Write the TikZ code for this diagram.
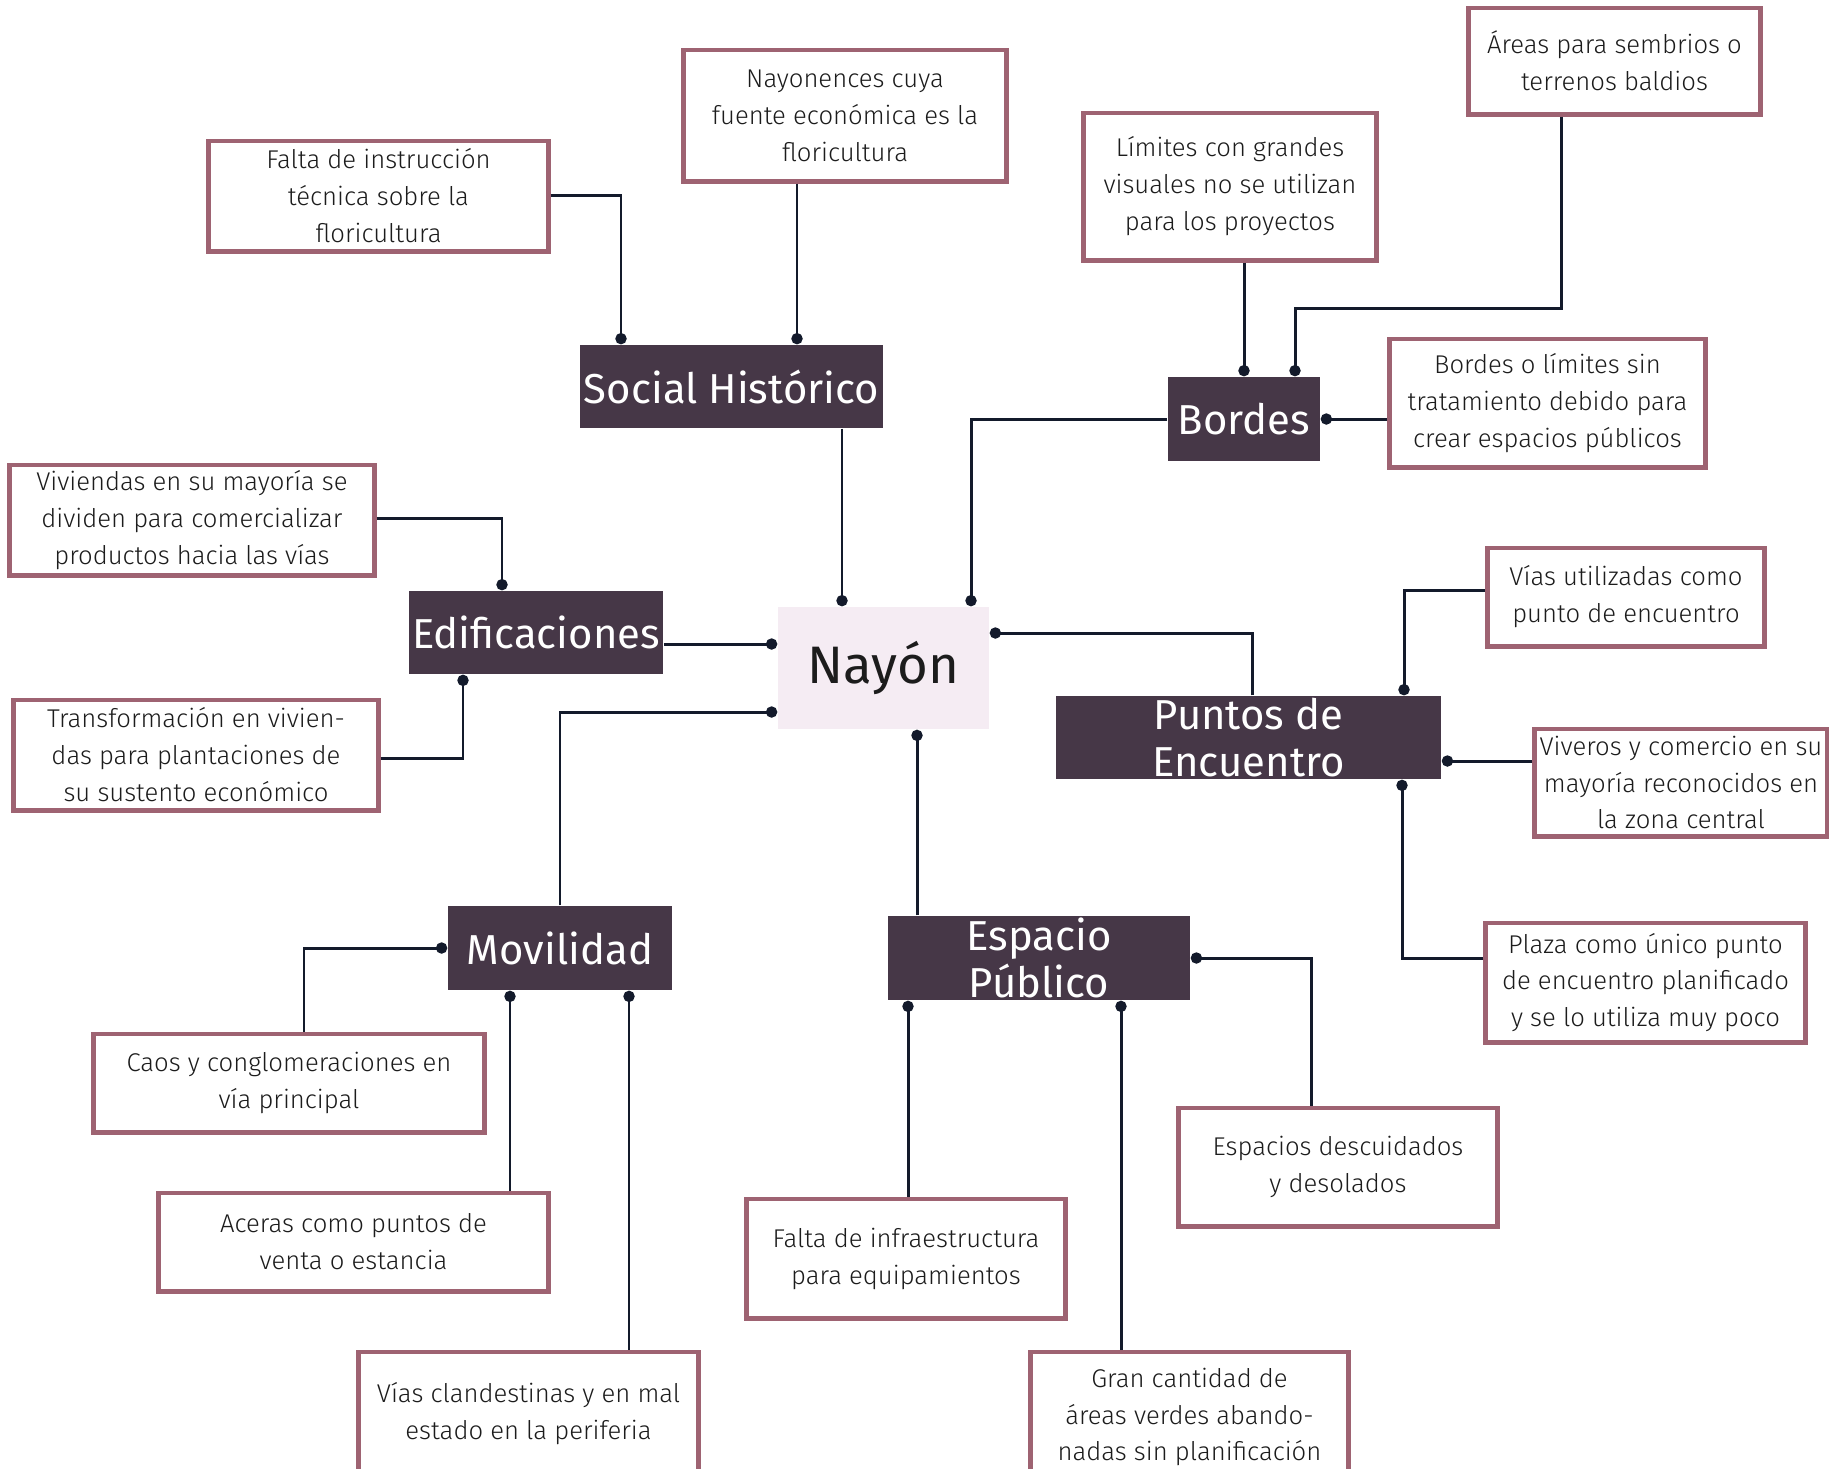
\documentclass[tikz,border=0pt]{standalone}
\usepackage{fontspec}
\usepackage{xcolor}
\setmainfont{Fira Sans}
\newfontfamily\notefont{Fira Sans Light}
\newfontfamily\catfont{Fira Sans}
\usetikzlibrary{positioning,arrows.meta}
\definecolor{plum}{HTML}{463747}
\definecolor{mauve}{HTML}{9E6372}
\definecolor{blush}{HTML}{F5ECF3}
\definecolor{navy}{HTML}{131A2B}
\definecolor{ink}{HTML}{1C1C1C}

\begin{document}
\begin{tikzpicture}[x=0.01cm,y=-0.01cm,
    every node/.style={align=center,inner sep=0pt},
    hubbox/.style={fill=blush,text=ink,font=\fontsize{15}{18}\selectfont},
    cat/.style={fill=plum,text=white,font=\catfont\fontsize{11.9}{13.3}\selectfont},
    note/.style={draw=mauve,line width=1.4pt,fill=white,text=ink,font=\notefont\fontsize{7.3}{10.5}\selectfont},
    link/.style={navy,line width=0.85pt,-{Circle[length=3.2pt,width=3.2pt]}}]
    \useasboundingbox (0,0) rectangle (1829,1468);
    \clip (0,0) rectangle (1829,1468);
    \fill[white] (0,0) rectangle (1829,1468);

    % centre
    \node[hubbox,minimum width=2.11cm,minimum height=1.22cm] (hub) at (883.5,668) {Nayón};

    % categories
    \node[cat,minimum width=3.03cm,minimum height=0.83cm] (social) at (731.5,386.5) {Social Histórico};
    \node[cat,minimum width=1.52cm,minimum height=0.84cm] (bordes) at (1244,419) {Bordes};
    \node[cat,minimum width=2.54cm,minimum height=0.83cm] (edif) at (536,632.5) {Edificaciones};
    \node[cat,inner ysep=-3pt,minimum width=3.85cm,minimum height=0.83cm] (puntos) at (1248.5,737.5) {Puntos de\\Encuentro};
    \node[cat,minimum width=2.24cm,minimum height=0.84cm] (movil) at (560,948) {Movilidad};
    \node[cat,inner ysep=-3pt,minimum width=3.02cm,minimum height=0.84cm] (espacio) at (1039,958) {Espacio\\Público};

    % notes
    \node[note,minimum width=3.39cm,minimum height=1.10cm] (instr) at (378.5,196) {Falta de instrucción\\técnica sobre la\\floricultura};
    \node[note,minimum width=3.22cm,minimum height=1.31cm] (nayon) at (845,115.5) {Nayonences cuya\\fuente económica es la\\floricultura};
    \node[note,minimum width=2.92cm,minimum height=1.47cm] (limites) at (1230,186.5) {Límites con grandes\\visuales no se utilizan\\para los proyectos};
    \node[note,minimum width=2.91cm,minimum height=1.06cm] (areas) at (1614.5,61) {Áreas para sembrios o\\terrenos baldios};
    \node[note,minimum width=3.15cm,minimum height=1.28cm] (bordlim) at (1547.5,403) {Bordes o límites sin\\tratamiento debido para\\crear espacios públicos};
    \node[note,minimum width=3.64cm,minimum height=1.10cm] (viviendas) at (192,520) {Viviendas en su mayoría se\\dividen para comercializar\\productos hacia las vías};
    \node[note,minimum width=3.64cm,minimum height=1.10cm] (transf) at (196,755) {Transformación en vivien-\\das para plantaciones de\\su sustento económico};
    \node[note,minimum width=2.76cm,minimum height=0.98cm] (vias) at (1626,597) {Vías utilizadas como\\punto de encuentro};
    \node[note,minimum width=2.92cm,minimum height=1.07cm] (viveros) at (1681,782.5) {Viveros y comercio en su\\mayoría reconocidos en\\la zona central};
    \node[note,minimum width=3.19cm,minimum height=1.19cm] (plaza) at (1645.5,982.5) {Plaza como único punto\\de encuentro planificado\\y se lo utiliza muy poco};
    \node[note,minimum width=3.90cm,minimum height=0.98cm] (caos) at (289,1083) {Caos y conglomeraciones en\\vía principal};
    \node[note,minimum width=3.89cm,minimum height=0.98cm] (aceras) at (353.5,1242) {Aceras como puntos de\\venta o estancia};
    \node[note,minimum width=3.39cm,minimum height=1.24cm] (clandest) at (528.5,1414) {Vías clandestinas y en mal\\estado en la periferia};
    \node[note,minimum width=3.18cm,minimum height=1.19cm] (infra) at (906,1258.5) {Falta de infraestructura\\para equipamientos};
    \node[note,minimum width=3.18cm,minimum height=1.18cm] (descuid) at (1338,1167) {Espacios descuidados\\y desolados};
    \node[note,minimum width=3.17cm,minimum height=1.30cm] (gran) at (1189.5,1417) {Gran cantidad de\\áreas verdes abando-\\nadas sin planificación};

    % links to the centre
    \draw[link] (842,0 |- social.south) -- (842,0 |- hub.north);
    \draw[link] (bordes.west) -| (971,0 |- hub.north);
    \draw[link] (edif.east |- 0,644) -- (hub.west |- 0,644);
    \draw[link] (1252,0 |- puntos.north) |- (hub.east |- 0,633);
    \draw[link] (movil.north) |- (hub.west |- 0,712);
    \draw[link] (917,0 |- espacio.north) -- (917,0 |- hub.south);

    % social historico
    \draw[link] (instr.east |- 0,195) -| (621,0 |- social.north);
    \draw[link] (797,0 |- nayon.south) -- (797,0 |- social.north);

    % bordes
    \draw[link] (limites.south -| bordes.north) -- (bordes.north);
    \draw[link] (1561,0 |- areas.south) |- (1295,308) -- (1295,0 |- bordes.north);
    \draw[link] (bordlim.west |- bordes.east) -- (bordes.east);

    % edificaciones
    \draw[link] (viviendas.east |- 0,518) -| (502,0 |- edif.north);
    \draw[link] (transf.east |- 0,758) -| (463,0 |- edif.south);

    % puntos de encuentro
    \draw[link] (vias.west |- 0,590) -| (1404,0 |- puntos.north);
    \draw[link] (viveros.west |- 0,761) -- (puntos.east |- 0,761);
    \draw[link] (plaza.west |- 0,958) -| (1402,0 |- puntos.south);

    % movilidad
    \draw[link] (304,0 |- caos.north) |- (movil.west);
    \draw[link] (510,0 |- aceras.north) -- (510,0 |- movil.south);
    \draw[link] (629,0 |- clandest.north) -- (629,0 |- movil.south);

    % espacio publico
    \draw[link] (908,0 |- infra.north) -- (908,0 |- espacio.south);
    \draw[link] (1121,0 |- gran.north) -- (1121,0 |- espacio.south);
    \draw[link] (1311,0 |- descuid.north) |- (espacio.east);
\end{tikzpicture}
\end{document}
